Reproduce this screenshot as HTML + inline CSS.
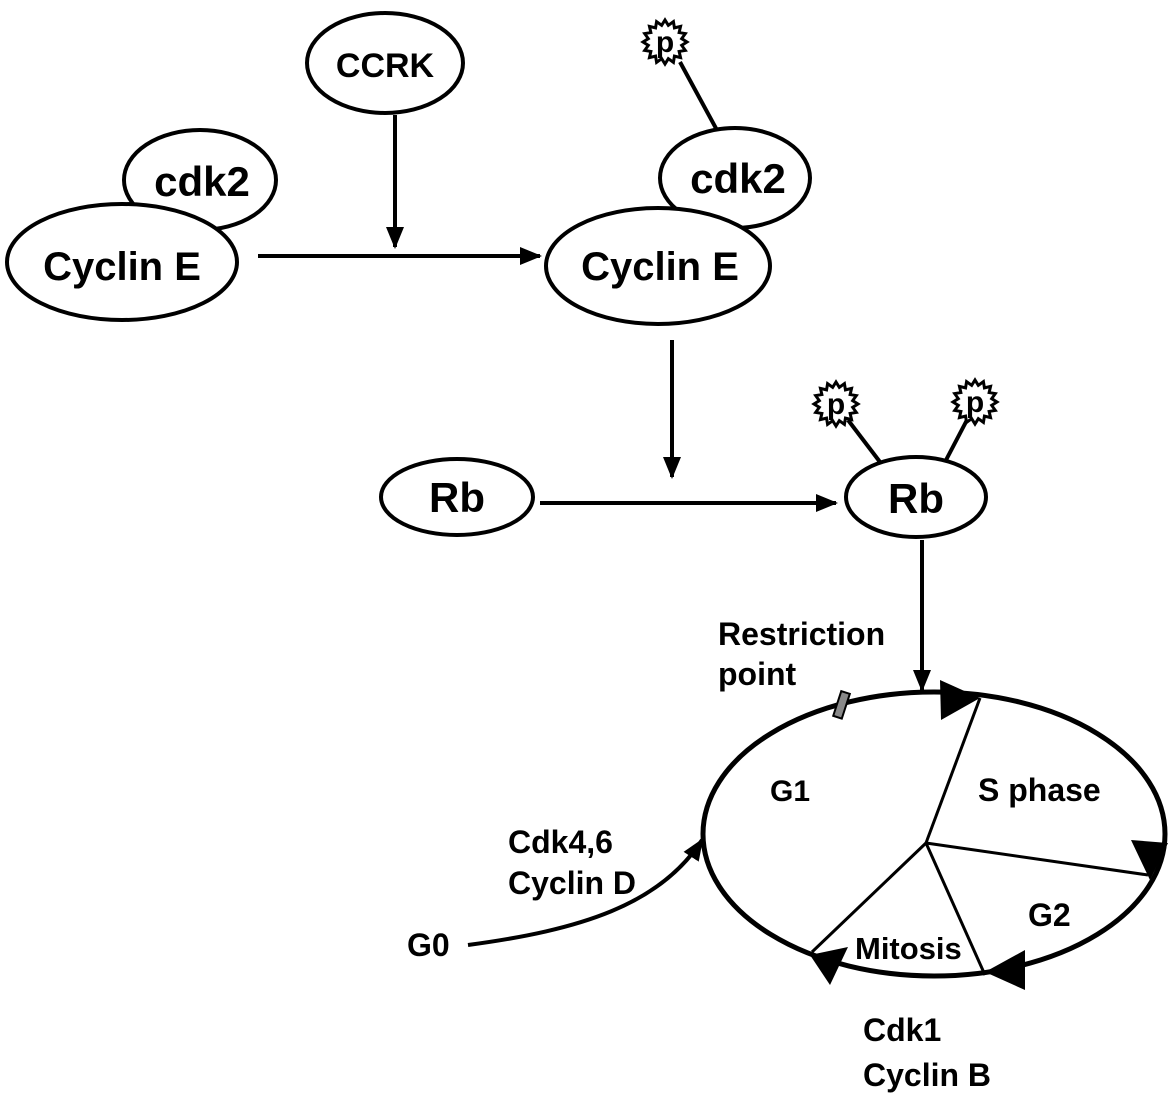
<!DOCTYPE html>
<html><head><style>html,body{margin:0;padding:0;background:#fff}svg{display:block}</style></head>
<body>
<svg width="1175" height="1094" viewBox="0 0 1175 1094" xmlns="http://www.w3.org/2000/svg" font-family="Liberation Sans, Arial, sans-serif" font-weight="bold">
<defs>
<marker id="ah" markerWidth="22" markerHeight="18" refX="20" refY="9" orient="auto" markerUnits="userSpaceOnUse" viewBox="0 0 22 18"><path d="M0,0 L22,9 L0,18 z" fill="#000"/></marker>
<polygon id="star" points="22,0 16.68,3.32 20.33,8.42 14.13,9.45 15.56,15.56 9.45,14.13 8.42,20.33 3.32,16.68 0,22 -3.32,16.68 -8.42,20.33 -9.45,14.13 -15.56,15.56 -14.13,9.45 -20.33,8.42 -16.68,3.32 -22,0 -16.68,-3.32 -20.33,-8.42 -14.13,-9.45 -15.56,-15.56 -9.45,-14.13 -8.42,-20.33 -3.32,-16.68 0,-22 3.32,-16.68 8.42,-20.33 9.45,-14.13 15.56,-15.56 14.13,-9.45 20.33,-8.42 16.68,-3.32" fill="#fff" stroke="#000" stroke-width="3"/>
</defs>
<g stroke="#000" stroke-width="4" fill="#fff">
<ellipse cx="200" cy="180" rx="76" ry="50"/>
<ellipse cx="122" cy="262" rx="115" ry="58"/>
<ellipse cx="385" cy="63" rx="78" ry="50"/>
<line x1="680" y1="62" x2="718" y2="132"/>
<ellipse cx="735" cy="178" rx="75" ry="50"/>
<ellipse cx="658" cy="266" rx="112" ry="58"/>
<ellipse cx="457" cy="497" rx="76" ry="38"/>
<line x1="848" y1="420" x2="880" y2="462"/>
<line x1="968" y1="418" x2="945" y2="462"/>
<ellipse cx="916" cy="497" rx="70" ry="40"/>
</g>
<use href="#star" x="665" y="42"/>
<use href="#star" x="836" y="404"/>
<use href="#star" x="975" y="402"/>
<g font-size="30" text-anchor="middle">
<text x="665" y="52">p</text><text x="836" y="414">p</text><text x="975" y="412">p</text>
</g>
<g stroke="#000" stroke-width="4" fill="none">
<line x1="395" y1="115" x2="395" y2="247" marker-end="url(#ah)"/>
<line x1="258" y1="256" x2="540" y2="256" marker-end="url(#ah)" />
<line x1="672" y1="340" x2="672" y2="477" marker-end="url(#ah)"/>
<line x1="540" y1="503" x2="836" y2="503" marker-end="url(#ah)"/>
<line x1="922" y1="540" x2="922" y2="690" marker-end="url(#ah)"/>
<path d="M468,945 C580,930 660,905 702,840" marker-end="url(#ah)"/>
</g>
<g stroke="#000" fill="none">
<ellipse cx="934" cy="834" rx="231" ry="142" stroke-width="5"/>
<g stroke-width="3">
<line x1="926" y1="843" x2="980" y2="698"/>
<line x1="926" y1="843" x2="1148" y2="875"/>
<line x1="926" y1="843" x2="985" y2="975"/>
<line x1="926" y1="843" x2="812" y2="952"/>
</g>
</g>
<g fill="#000">
<path d="M940,680 L980,698 L941,720 z"/>
<path d="M1131,840 L1168,843 L1150,880 z"/>
<path d="M1025,950 L985,972 L1025,990 z"/>
<path d="M848,947 L810,955 L830,985 z"/>
</g>
<rect x="837" y="692" width="9" height="26" fill="#888" stroke="#000" stroke-width="2" transform="rotate(18 842 705)"/>
<g text-anchor="middle">
<text x="202" y="196" font-size="42">cdk2</text>
<text x="122" y="280" font-size="40">Cyclin E</text>
<text x="385" y="77" font-size="34">CCRK</text>
<text x="738" y="193" font-size="42">cdk2</text>
<text x="660" y="280" font-size="40">Cyclin E</text>
<text x="457" y="512" font-size="42">Rb</text>
<text x="916" y="513" font-size="42">Rb</text>
</g>
<g font-size="32">
<text x="718" y="645">Restriction</text>
<text x="718" y="685">point</text>
<text x="770" y="801" font-size="30">G1</text>
<text x="978" y="801">S phase</text>
<text x="1028" y="926">G2</text>
<text x="855" y="959" font-size="31">Mitosis</text>
<text x="508" y="853">Cdk4,6</text>
<text x="508" y="894">Cyclin D</text>
<text x="407" y="956">G0</text>
<text x="863" y="1041">Cdk1</text>
<text x="863" y="1086">Cyclin B</text>
</g>
</svg>
</body></html>
